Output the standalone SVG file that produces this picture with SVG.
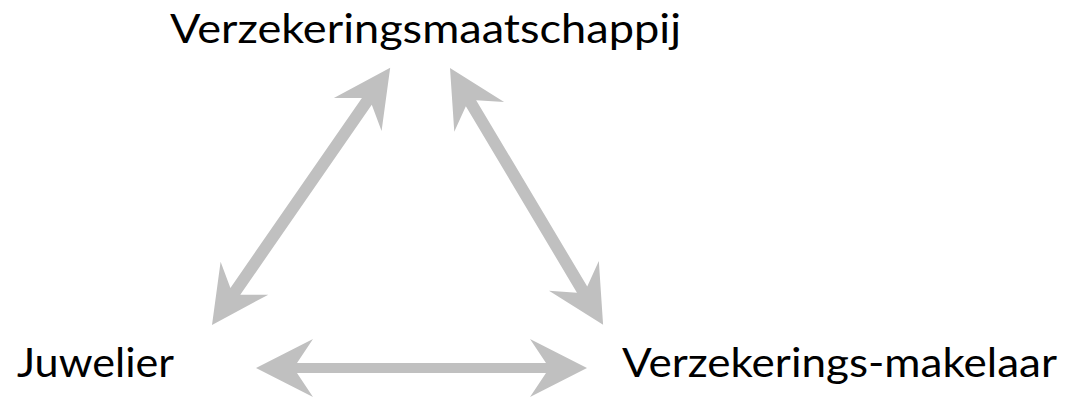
<svg xmlns="http://www.w3.org/2000/svg" width="1073" height="397" viewBox="0 0 1073 397">
<style>
.lbl{font-family:Lato,"Open Sans","Liberation Sans",sans-serif;font-size:40px;fill:#000}
.arr{fill:#c0c0c0;stroke:none}
</style>
<rect width="1073" height="397" fill="#fff"/>
<g id="connectors">
<path class="arr" transform="translate(256,368)" d="M0,0 L57,-29 L41,-5 L290,-5 L274,-29 L331,0 L274,29 L290,5 L41,5 L57,29 Z"/>
<path class="arr" transform="translate(212,325) rotate(-55.3)" d="M0,0 L57,-29 L41,-6 L272,-6 L256,-29 L313,0 L256,29 L272,6 L41,6 L57,29 Z"/>
<path class="arr" transform="translate(450,68) rotate(59.2)" d="M0,0 L57,-29 L41,-6 L258,-6 L242,-29 L299,0 L242,29 L258,6 L41,6 L57,29 Z"/>
</g>
<g id="node-maatschappij"><text class="lbl" x="170" y="43" textLength="511" lengthAdjust="spacingAndGlyphs">Verzekeringsmaatschappij</text></g>
<g id="node-juwelier"><text class="lbl" x="17" y="377" textLength="157" lengthAdjust="spacingAndGlyphs">Juwelier</text></g>
<g id="node-makelaar"><text class="lbl" x="622" y="377" textLength="435" lengthAdjust="spacingAndGlyphs">Verzekerings-makelaar</text></g>
</svg>
